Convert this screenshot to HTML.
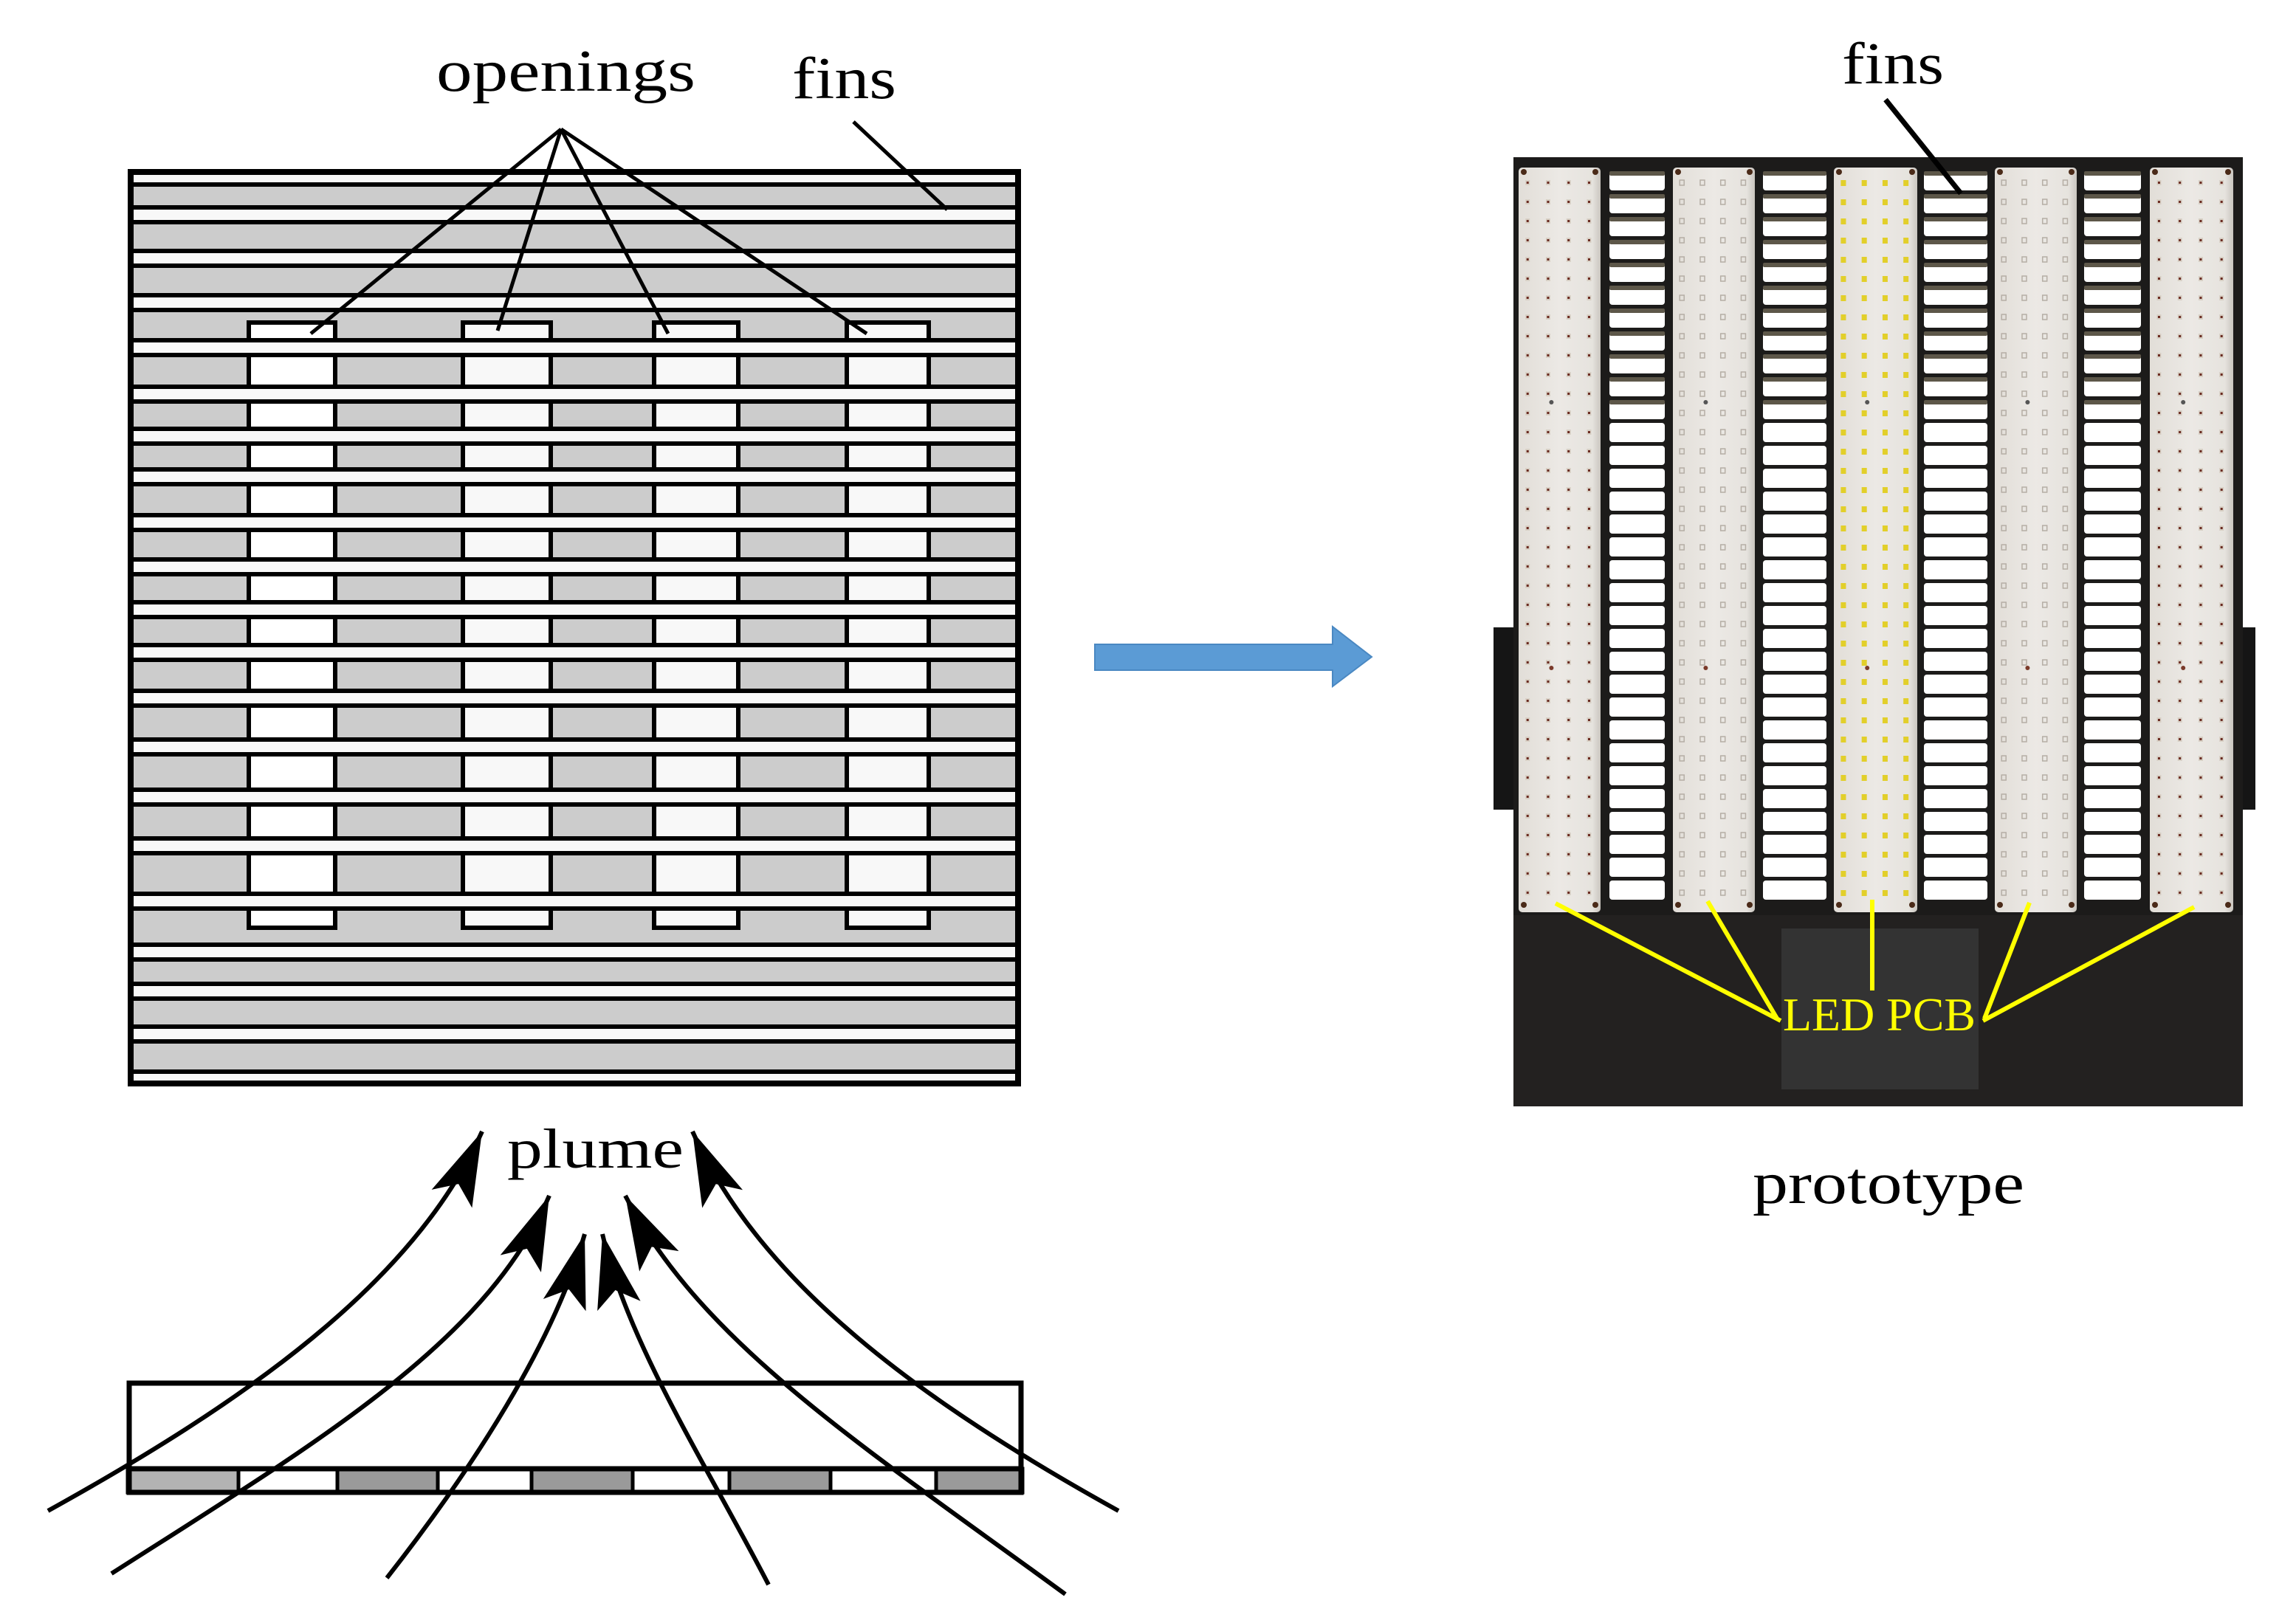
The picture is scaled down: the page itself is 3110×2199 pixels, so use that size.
<!DOCTYPE html>
<html><head><meta charset="utf-8">
<style>
html,body{margin:0;padding:0;background:#fff;}
svg{display:block;}
text{font-family:"Liberation Serif","Times New Roman",serif;}
</style></head>
<body>
<svg id="s" width="3110" height="2199" viewBox="0 0 3110 2199" xmlns="http://www.w3.org/2000/svg">
<defs>
<marker id="ah" markerUnits="userSpaceOnUse" markerWidth="120" markerHeight="80" viewBox="-100 -40 120 80" refX="0" refY="0" orient="auto">
<path d="M0,0 L-100,-30 L-78,0 L-100,30 Z" fill="#000"/>
</marker>
<linearGradient id="pcb" x1="0" x2="1" y1="0" y2="0">
<stop offset="0" stop-color="#e2ded8"/><stop offset="0.5" stop-color="#ece9e5"/><stop offset="0.9" stop-color="#e6e3de"/><stop offset="1" stop-color="#c9c5bf"/>
</linearGradient>
</defs>
<rect width="3110" height="2199" fill="#fff"/>
<g id="left"></g>
<g id="right"></g>
<text x="591" y="123" font-family="Liberation Serif, serif" font-size="80" textLength="351" lengthAdjust="spacingAndGlyphs">openings</text>
<text x="1073" y="133" font-family="Liberation Serif, serif" font-size="80" textLength="141" lengthAdjust="spacingAndGlyphs">fins</text>
<g stroke="#000" stroke-width="5" fill="none">
<line x1="760" y1="175" x2="421" y2="452"/>
<line x1="760" y1="175" x2="674" y2="448"/>
<line x1="760" y1="175" x2="905" y2="452"/>
<line x1="760" y1="175" x2="1174" y2="452"/>
<line x1="1156" y1="165" x2="1283" y2="284"/>
</g>
<path d="M1483,873 L1805,873 L1805,849 L1858,890 L1805,930 L1805,908 L1483,908 Z" fill="#5b9bd5" stroke="#4a88c2" stroke-width="2"/>
<text x="687" y="1582" font-family="Liberation Serif, serif" font-size="76" textLength="239" lengthAdjust="spacingAndGlyphs">plume</text>
<g id="plume"></g>
<text x="2495" y="113" font-family="Liberation Serif, serif" font-size="80" textLength="138" lengthAdjust="spacingAndGlyphs">fins</text>
<line x1="2554" y1="135" x2="2656" y2="262" stroke="#000" stroke-width="7"/>
<text x="2374" y="1630" font-family="Liberation Serif, serif" font-size="80" textLength="368" lengthAdjust="spacingAndGlyphs">prototype</text>
</svg>
<script>
var NS="http://www.w3.org/2000/svg";
function el(p,t,a){var e=document.createElementNS(NS,t);for(var k in a)e.setAttribute(k,a[k]);p.appendChild(e);return e;}
var L=document.getElementById('left');
el(L,'rect',{x:174,y:230,width:1208,height:1241,fill:'#cccccc'});
var cols=[[337,454,'#ffffff'],[627,746,'#f8f8f8'],[886,1000,'#f8f8f8'],[1147,1258,'#f8f8f8']];
cols.forEach(function(c){el(L,'rect',{x:c[0],y:437,width:c[1]-c[0],height:820,fill:c[2],stroke:'#000','stroke-width':6});});
var strips=[240,291,350,410,471,534,591,646,708,768,826,884,946,1012,1080,1146,1221,1290,1343,1401,1462];
strips.forEach(function(c){
 el(L,'rect',{x:176,y:c-8,width:1204,height:16,fill:'#f8f8f8'});
 if(c>245) el(L,'line',{x1:174,x2:1382,y1:c-10,y2:c-10,stroke:'#000','stroke-width':6});
 if(c<1455) el(L,'line',{x1:174,x2:1382,y1:c+10,y2:c+10,stroke:'#000','stroke-width':6});
});
el(L,'rect',{x:177,y:233,width:1202,height:1235,fill:'none',stroke:'#000','stroke-width':8});
var P=document.getElementById('plume');
var segx=[173,323,457,593,720,857,988,1125,1268,1385];
for(var i=0;i<9;i++){el(P,'rect',{x:segx[i],y:1990,width:segx[i+1]-segx[i],height:32,fill:i%2?'#ffffff':(i==0?'#b3b3b3':'#9a9a9a'),stroke:'#000','stroke-width':5});}
el(P,'rect',{x:175,y:1874,width:1208,height:148,fill:'none',stroke:'#000','stroke-width':7});
el(P,'line',{x1:175,x2:1383,y1:1990,y2:1990,stroke:'#000','stroke-width':7});
var curves=[
'M65,2047 C330,1900 560,1740 653,1533',
'M151,2132 C420,1960 660,1820 744,1620',
'M524,2138 C640,1990 750,1820 792,1672',
'M1041,2147 C960,1990 850,1820 816,1672',
'M1443,2160 C1170,1960 950,1820 847,1620',
'M1515,2047 C1250,1900 1030,1740 938,1533'];
curves.forEach(function(d){el(P,'path',{d:d,fill:'none',stroke:'#000','stroke-width':6,'marker-end':'url(#ah)'});});
var R=document.getElementById('right');
el(R,'rect',{x:2023,y:850,width:30,height:247,fill:'#151515'});
el(R,'rect',{x:3035,y:850,width:20,height:247,fill:'#151515'});
el(R,'rect',{x:2050,y:213,width:988,height:1286,fill:'#1c1b1a'});
el(R,'rect',{x:2050,y:1240,width:988,height:259,fill:'#232120'});
el(R,'rect',{x:2413,y:1258,width:267,height:218,fill:'#333333'});
var fins=[[2180,2255],[2388,2474],[2606,2692],[2823,2900]];
fins.forEach(function(f){
 for(var y=232;y<1215;y+=31){
  el(R,'rect',{x:f[0],y:y,width:f[1]-f[0],height:26,rx:4,fill:'#ffffff'});
  var up=y<560;
  if(up) el(R,'rect',{x:f[0],y:y,width:f[1]-f[0],height:6,rx:2,fill:'#5d5749'});
 }
});
var pcbs=[[2057,2168,'b'],[2266,2377,'o'],[2484,2597,'y'],[2702,2813,'o'],[2912,3025,'b']];
pcbs.forEach(function(p){
 var w=p[1]-p[0];
 el(R,'rect',{x:p[0],y:227,width:w,height:1009,rx:5,fill:'url(#pcb)'});
 el(R,'circle',{cx:p[0]+7,cy:233,r:4,fill:'#4a2a18'});
 el(R,'circle',{cx:p[1]-7,cy:233,r:4,fill:'#4a2a18'});
 el(R,'circle',{cx:p[0]+7,cy:1226,r:4,fill:'#4a2a18'});
 el(R,'circle',{cx:p[1]-7,cy:1226,r:4,fill:'#4a2a18'});
 el(R,'circle',{cx:p[0]+w*0.4,cy:545,r:3,fill:'#555'});
 el(R,'circle',{cx:p[0]+w*0.4,cy:905,r:3,fill:'#7a3a2a'});
 var fr=[0.11,0.36,0.61,0.86];
 for(var y=248;y<1215;y+=26){
  fr.forEach(function(f){
   var x=p[0]+w*f;
   if(p[2]=='y') el(R,'rect',{x:x-3,y:y-4,width:7,height:8,fill:'#e2cf2a'});
   else if(p[2]=='b'){el(R,'rect',{x:x-3,y:y-4,width:6,height:7,fill:'#d7cfc4'});el(R,'rect',{x:x-1.5,y:y-2,width:3,height:3,fill:'#6a2a20'});}
   else el(R,'rect',{x:x-3,y:y-4,width:6,height:7,fill:'none',stroke:'#b5aea5','stroke-width':1.5});
  });
 }
});
[[2107,1224,2412,1383],[2313,1221,2407,1380],[2536,1219,2536,1342],[2749,1223,2688,1380],[2972,1229,2686,1383]].forEach(function(l){
 el(R,'line',{x1:l[0],y1:l[1],x2:l[2],y2:l[3],stroke:'#ffff00','stroke-width':6});
});
var t=el(R,'text',{x:2415,y:1396,'font-size':64,'font-family':'Liberation Serif, serif',fill:'#ffff00',textLength:261,lengthAdjust:'spacingAndGlyphs'});
t.textContent='LED PCB';
</script>
</body></html>
